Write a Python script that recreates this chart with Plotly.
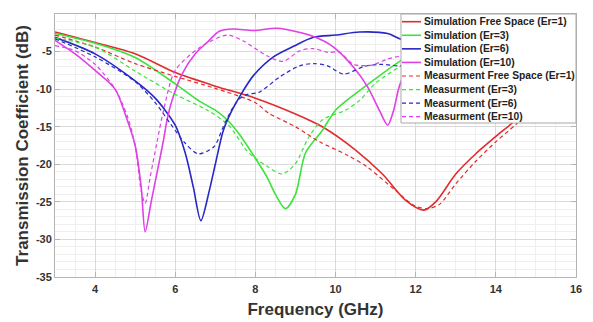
import plotly.graph_objects as go

# ---------------- data ----------------
sim_fs_x = [3, 4, 5, 6, 7, 8, 9, 9.67, 10.5, 11.17, 11.75, 12.2, 12.5, 13, 13.5, 14, 14.5, 15, 16]
sim_fs_y = [-2.4, -3.8, -5.3, -7.8, -9.6, -11.2, -13.3, -15.0, -18.1, -21.3, -24.8, -26.1, -25.0, -21.3, -18.6, -16.3, -14.1, -11.5, -7.0]

sim_er3_x = [3, 4, 5, 6, 6.6, 7, 7.3, 7.6, 8, 8.3, 8.5, 8.75, 9, 9.25, 9.67, 10, 10.5, 11, 11.6, 12, 13, 14, 16]
sim_er3_y = [-2.6, -3.9, -5.8, -9.3, -11.6, -12.8, -14.1, -16.0, -19.2, -21.8, -24.0, -25.9, -24.0, -18.5, -15.5, -12.8, -10.6, -8.6, -6.3, -5.2, -3.8, -3.2, -3.0]

sim_er6_x = [3, 4, 5, 5.5, 6, 6.25, 6.45, 6.64, 6.85, 7.0, 7.2, 7.4, 7.63, 7.95, 8.45, 8.95, 9.45, 10, 10.6, 11.3, 11.6, 12, 13, 14, 16]
sim_er6_y = [-3.1, -5.3, -8.9, -11.2, -14.8, -18.5, -23.0, -27.5, -23.5, -20.0, -15.5, -13.0, -10.8, -8.2, -5.7, -4.3, -3.1, -2.8, -2.4, -2.6, -3.3, -4.0, -5.0, -6.0, -7.0]

sim_er10_x = [3, 3.5, 4, 4.5, 4.75, 5.0, 5.15, 5.25, 5.4, 5.55, 5.7, 5.8, 5.92, 6.17, 6.5, 6.83, 7.1, 7.45, 7.95, 8.55, 9.45, 9.95, 10.45, 10.8, 11.1, 11.3, 11.45, 11.6, 12, 13, 16]
sim_er10_y = [-3.5, -5.3, -7.5, -10.0, -13.3, -17.5, -23.0, -29.0, -25.0, -21.0, -17.0, -14.0, -11.5, -8.0, -5.3, -3.6, -2.3, -2.0, -2.2, -1.9, -3.0, -4.4, -7.1, -9.7, -12.9, -14.8, -12.8, -9.5, -5.0, -3.5, -3.0]

mea_fs_x = [3, 4, 5, 6, 7, 8, 8.33, 9.0, 9.6, 10.3, 10.8, 11.5, 12, 12.3, 12.6, 13, 13.5, 14, 14.5, 15, 16]
mea_fs_y = [-2.8, -4.4, -6.6, -8.3, -9.9, -11.8, -13.2, -15.0, -17.0, -18.8, -20.4, -23.5, -25.6, -25.9, -25.3, -22.6, -19.6, -17.0, -14.7, -12.0, -7.5]

mea_er3_x = [3, 4, 5, 6, 6.8, 7.33, 7.8, 8.0, 8.3, 8.67, 9.0, 9.33, 9.67, 10.25, 10.6, 11, 11.6, 12, 13, 16]
mea_er3_y = [-3.2, -4.4, -7.6, -10.7, -12.8, -14.8, -18.3, -19.2, -20.3, -21.3, -19.9, -16.4, -14.1, -12.8, -11.5, -9.2, -7.0, -5.8, -4.5, -4.0]

mea_er6_x = [3, 4, 5, 5.5, 5.88, 6.25, 6.57, 6.96, 7.2, 7.4, 7.6, 7.8, 8.1, 8.6, 9.1, 9.45, 9.8, 10.2, 10.7, 11.1, 11.6, 12.5, 16]
mea_er6_y = [-3.3, -5.7, -9.0, -11.8, -14.6, -17.2, -18.6, -17.7, -15.0, -12.8, -11.3, -10.7, -10.4, -8.4, -6.9, -6.6, -6.9, -8.0, -7.0, -6.7, -6.9, -6.5, -7.0]

mea_er10_x = [3, 3.5, 4, 4.5, 4.8, 5.0, 5.15, 5.25, 5.375, 5.54, 5.71, 6.0, 6.63, 7.3, 7.7, 8.3, 8.7, 9.1, 9.45, 9.8, 10.1, 10.45, 10.9, 11.3, 11.6, 12.5, 16]
mea_er10_y = [-4.2, -4.9, -6.7, -10.0, -13.5, -17.5, -23.5, -25.2, -21.7, -17.2, -12.8, -7.5, -4.4, -2.8, -3.6, -5.6, -6.3, -4.9, -4.6, -5.1, -5.1, -6.7, -6.8, -6.0, -5.6, -5.0, -5.0]

series_names = [
    "Simulation Free Space (Er=1)",
    "Simulation (Er=3)",
    "Simulation (Er=6)",
    "Simulation (Er=10)",
    "Measurment Free Space (Er=1)",
    "Measurment (Er=3)",
    "Measurment (Er=6)",
    "Measurment (Er=10)",
]
series_x = [sim_fs_x, sim_er3_x, sim_er6_x, sim_er10_x, mea_fs_x, mea_er3_x, mea_er6_x, mea_er10_x]
series_y = [sim_fs_y, sim_er3_y, sim_er6_y, sim_er10_y, mea_fs_y, mea_er3_y, mea_er6_y, mea_er10_y]

x_ticks = [4, 6, 8, 10, 12, 14, 16]
y_ticks = [0, -5, -10, -15, -20, -25, -30, -35]

# ---------------- styles ----------------
colors = ["#E02C2C", "#3EE23E", "#2828C4", "#E040E6"] * 2
dashes = ["solid"] * 4 + ["4px,3px"] * 4
widths = [1.6] * 4 + [1.2] * 4
FONT = "Liberation Sans, Arial, sans-serif"

fig = go.Figure()
for name, xs, ys, c, d, w in zip(series_names, series_x, series_y, colors, dashes, widths):
    fig.add_trace(go.Scatter(
        x=xs, y=ys, mode="lines", name=name, showlegend=False,
        line=dict(color=c, dash=d, width=w, shape="spline", smoothing=0.8),
    ))

axis_common = dict(
    automargin=False,
    showline=True, linecolor="#b4b4b4", linewidth=1, mirror="ticks",
    ticks="inside", ticklen=5, tickcolor="#b4b4b4",
    showgrid=True, gridcolor="#dadada", gridwidth=1,
    zeroline=False,
    tickfont=dict(family=FONT, size=11, color="#333333", weight="bold"),
)

# the page body adds an 8px offset; figure is sized so that it fits the window
fig.update_layout(
    width=585, height=314,
    margin=dict(l=47, r=17, t=6, b=45),
    paper_bgcolor="white", plot_bgcolor="white",
    xaxis=dict(
        range=[3, 16], tickvals=x_ticks, ticktext=[str(v) for v in x_ticks],
        ticklabelstandoff=2,
        minor=dict(dtick=0.5, tick0=3, showgrid=True, gridcolor="#efefef", ticks=""),
        title=dict(text="Frequency (GHz)", standoff=8,
                   font=dict(family=FONT, size=17, color="#333333", weight="bold")),
        **axis_common,
    ),
    yaxis=dict(
        range=[-35, 0], tickvals=y_ticks, ticktext=[str(v) for v in y_ticks],
        minor=dict(dtick=1, showgrid=True, gridcolor="#efefef", ticks=""),
        title=dict(text="Transmission Coefficient (dB)", standoff=2,
                   font=dict(family=FONT, size=17, color="#333333", weight="bold")),
        **axis_common,
    ),
)

# ---------------- legend (drawn as a box in paper coordinates) ----------------
plot_l, plot_r, plot_t, plot_b = 55, 576, 14, 277   # plot box in window pixels
pw, ph = plot_r - plot_l, plot_b - plot_t

def px_to_paper_x(px):
    return (px - plot_l) / pw

def px_to_paper_y(py):
    return (plot_b - py) / ph

box_l, box_r, box_t, box_b = 401, 576, 14, 123
fig.add_shape(type="rect", xref="paper", yref="paper", layer="above",
              x0=px_to_paper_x(box_l), x1=px_to_paper_x(box_r),
              y0=px_to_paper_y(box_b), y1=px_to_paper_y(box_t),
              fillcolor="white", line=dict(color="#a8a8a8", width=1))

row0, row_step = 21.7, 13.57
for i, (name, c, d, w) in enumerate(zip(series_names, colors, dashes, widths)):
    yc = px_to_paper_y(row0 + i * row_step)
    fig.add_shape(type="line", xref="paper", yref="paper", layer="above",
                  x0=px_to_paper_x(402), x1=px_to_paper_x(421), y0=yc, y1=yc,
                  line=dict(color=c, dash=d, width=w))
    fig.add_annotation(xref="paper", yref="paper", x=px_to_paper_x(422), y=yc,
                       xanchor="left", yanchor="middle", showarrow=False,
                       text=name, font=dict(family=FONT, size=10.3, color="#222222", weight="bold"))

fig.write_html("out.html")
